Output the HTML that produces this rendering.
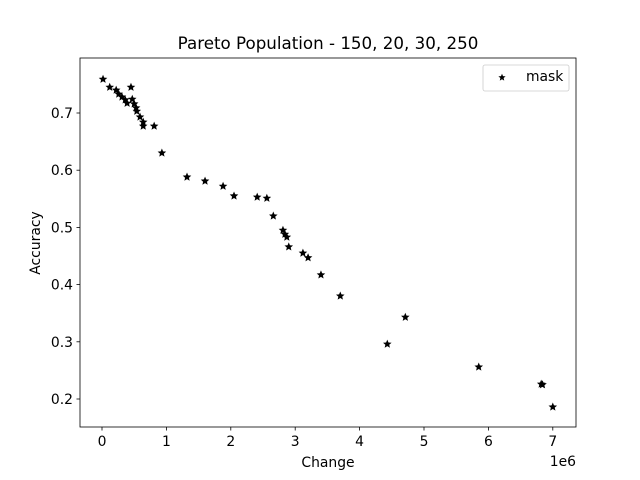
<!DOCTYPE html>
<html><head><meta charset="utf-8"><style>body{margin:0;background:#fff}svg{display:block;font-family:"DejaVu Sans","Liberation Sans",sans-serif}</style></head>
<body>
<svg id="c" width="640" height="480"></svg>
<script>
const changeVals=[0.016,0.12,0.22,0.26,0.31,0.36,0.39,0.45,0.47,0.50,0.53,0.54,0.59,0.64,0.64,0.81,0.93,1.32,1.60,1.88,2.05,2.41,2.56,2.66,2.81,2.84,2.87,2.90,3.12,3.20,3.40,3.70,4.43,4.71,5.85,6.82,6.84,7.0];
const accVals=[0.759,0.745,0.740,0.733,0.728,0.723,0.717,0.745,0.724,0.716,0.709,0.703,0.693,0.684,0.677,0.677,0.630,0.588,0.581,0.572,0.555,0.553,0.551,0.520,0.495,0.488,0.483,0.466,0.455,0.447,0.417,0.380,0.296,0.343,0.256,0.226,0.225,0.186];
const xTicks=[0,1,2,3,4,5,6,7];
const yTicks=[0.2,0.3,0.4,0.5,0.6,0.7];
const NS="http://www.w3.org/2000/svg",svg=document.getElementById('c');
const L=80,R=576,T=58,B=427;
const xs=v=>102+v*64.4, ys=v=>113-(v-0.7)*572;
function el(t,a,txt){const e=document.createElementNS(NS,t);for(const k in a)e.setAttribute(k,a[k]);if(txt!==undefined)e.textContent=txt;svg.appendChild(e);return e;}
let e=el('rect',{x:L,y:T,width:R-L,height:B-T,fill:'#fff',stroke:'#000','stroke-width':0.8});


xTicks.forEach(v=>{const x=xs(v);
 let t=el('line',{x1:x,x2:x,y1:B,y2:B+3.5,stroke:'#000','stroke-width':0.8});
 
 
 let l=el('text',{x:x,y:B+19,'font-size':13.9,'text-anchor':'middle'},String(v));
 
 });
yTicks.forEach(v=>{const y=ys(v);
 let t=el('line',{x1:L-3.5,x2:L,y1:y,y2:y,stroke:'#000','stroke-width':0.8});
 
 
 let l=el('text',{x:L-7,y:y+5,'font-size':13.9,'text-anchor':'end'},v.toFixed(1));
 
 });
function star(cx,cy,r){let p=[];for(let i=0;i<10;i++){const a=-Math.PI/2+i*Math.PI/5,rr=i%2?r*0.45:r;p.push((cx+rr*Math.cos(a)).toFixed(2)+','+(cy+rr*Math.sin(a)).toFixed(2));}return p.join(' ');}
changeVals.forEach((v,i)=>{let s=el('polygon',{points:star(xs(v),ys(accVals[i]),4.5),fill:'#000'});
 
 });
let t;
t=el('text',{x:328,y:49,'font-size':16.7,'text-anchor':'middle'},'Pareto Population - 150, 20, 30, 250');


t=el('text',{x:328,y:467,'font-size':13.9,'text-anchor':'middle'},'Change');


t=el('text',{x:40,y:243,'font-size':13.9,'text-anchor':'middle',transform:'rotate(-90 40 243)'},'Accuracy');


t=el('text',{x:576,y:466,'font-size':13.9,'text-anchor':'end'},'1e6');


let g=el('rect',{x:483,y:65,width:86,height:26,rx:2,fill:'#fff',stroke:'#ccc','stroke-width':0.8});


let ls=el('polygon',{points:star(502,77.5,3.8),fill:'#000'});


t=el('text',{x:526,y:81,'font-size':13.9},'mask');


</script>
</body></html>
